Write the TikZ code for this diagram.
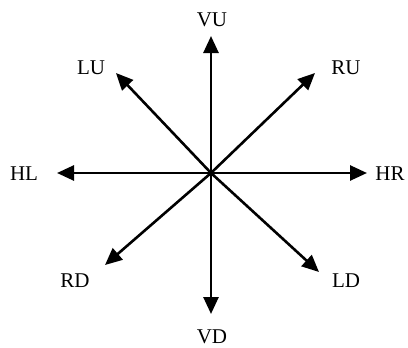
\documentclass[tikz,border=0pt]{standalone}
\usepackage{fontspec}
\setmainfont{Liberation Serif}
\usetikzlibrary{arrows.meta}

\begin{document}
\begin{tikzpicture}[x=1pt,y=-1pt,>={Triangle[length=17pt,width=15pt]},
    dirlabel/.style={font=\fontsize{21}{24}\selectfont,inner sep=0pt}]
\useasboundingbox (0,0) rectangle (408,348);
\coordinate (c) at (211,173);
\foreach \n/\tx/\ty/\lx/\ly in {VU/211/36/212/20,VD/211/314/212/337,
    HL/57/173/24/174,HR/367/173/390/174,LU/116/73/91/68,RU/315/73/346/68,
    RD/105/265/75/281,LD/319/272/346/281}{
    \coordinate (tip\n) at (\tx,\ty);
    \node[dirlabel] (lab\n) at (\lx,\ly){\n};
    \draw[->,line width=2.6pt] (c) -- (tip\n);
}
\end{tikzpicture}
\end{document}
